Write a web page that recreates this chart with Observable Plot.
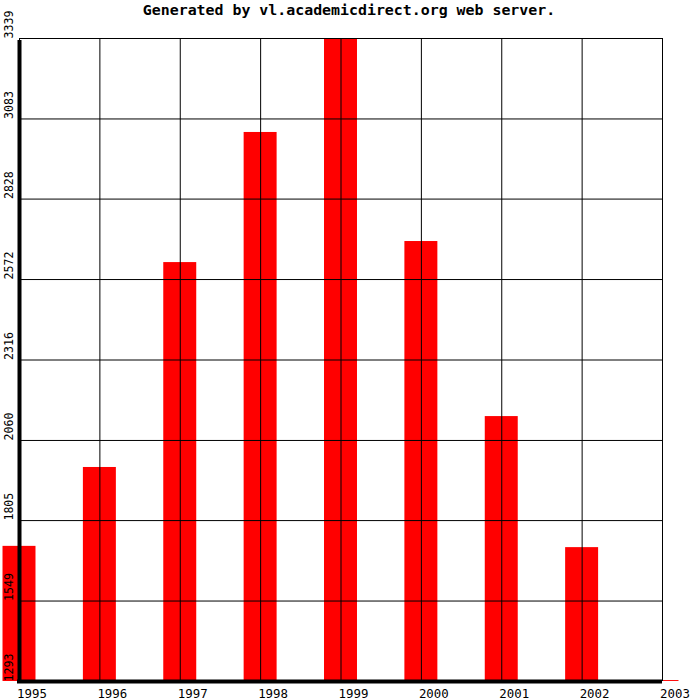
<!DOCTYPE html>
<html>
<head>
<meta charset="utf-8">
<script src="https://cdn.jsdelivr.net/npm/d3@7"></script>
<script src="https://cdn.jsdelivr.net/npm/@observablehq/plot@0.6"></script>
<style>
  html, body { margin: 0; padding: 0; background: #fff; }
  svg { overflow: visible; display: block; }
</style>
</head>
<body>
<div id="chart"></div>
<script>
const title = "Generated by vl.academicdirect.org web server.";
const years = [1995, 1996, 1997, 1998, 1999, 2000, 2001, 2002, 2003];
const values = [1723, 1974, 2626, 3040, 3339, 2693, 2136, 1719, 1296];
const yTicks = [1293, 1549, 1805, 2060, 2316, 2572, 2828, 3083, 3339];
const yMin = 1293, yMax = 3339;

const data = years.map((year, i) => ({year, value: values[i]}));
const mono = "'DejaVu Sans Mono', 'Liberation Mono', monospace";

const chart = Plot.plot({
  width: 700,
  height: 700,
  marginLeft: 19,
  marginRight: 38,
  marginTop: 38,
  marginBottom: 19,
  style: {background: "#fff", fontFamily: mono},
  x: {domain: [years[0], years[years.length - 1]], axis: null},
  y: {domain: [yMin, yMax], axis: null},
  marks: [
    Plot.rectY(data, {
      x1: d => d.year - 0.5,
      x2: d => d.year + 0.5,
      y1: yMin,
      y2: "value",
      insetLeft: 23.7,
      insetRight: 23.7,
      fill: "#ff0000"
    }),
    Plot.ruleX(years, {x: d => d, stroke: "#000", strokeWidth: 1, strokeOpacity: 1}),
    Plot.ruleY(yTicks, {y: d => d, stroke: "#000", strokeWidth: 1, strokeOpacity: 1}),
    Plot.ruleX([years[0]], {x: d => d, stroke: "#000", strokeWidth: 4, strokeOpacity: 1, y1: yMin, y2: yMax, insetBottom: -2}),
    Plot.ruleY([yMin], {y: d => d, stroke: "#000", strokeWidth: 4, strokeOpacity: 1, x1: years[0], x2: years[years.length - 1], insetLeft: -2}),
    Plot.text(yTicks, {
      y: d => d,
      text: d => String(d),
      frameAnchor: "left",
      dx: -7,
      rotate: -90,
      textAnchor: "start",
      lineAnchor: "bottom",
      fontSize: 11.6,
      fill: "#000"
    }),
    Plot.text(years, {
      x: d => d,
      text: d => String(d),
      frameAnchor: "bottom",
      textAnchor: "start",
      lineAnchor: "bottom",
      dx: -2.5,
      dy: 16,
      fontSize: 12.4,
      fill: "#000"
    }),
    Plot.text([title], {
      text: d => d,
      frameAnchor: "top",
      lineAnchor: "bottom",
      dx: 8,
      dy: -24,
      fontSize: 14.9,
      fontWeight: "bold",
      fill: "#000"
    })
  ]
});
document.getElementById("chart").appendChild(chart);
</script>
</body>
</html>
